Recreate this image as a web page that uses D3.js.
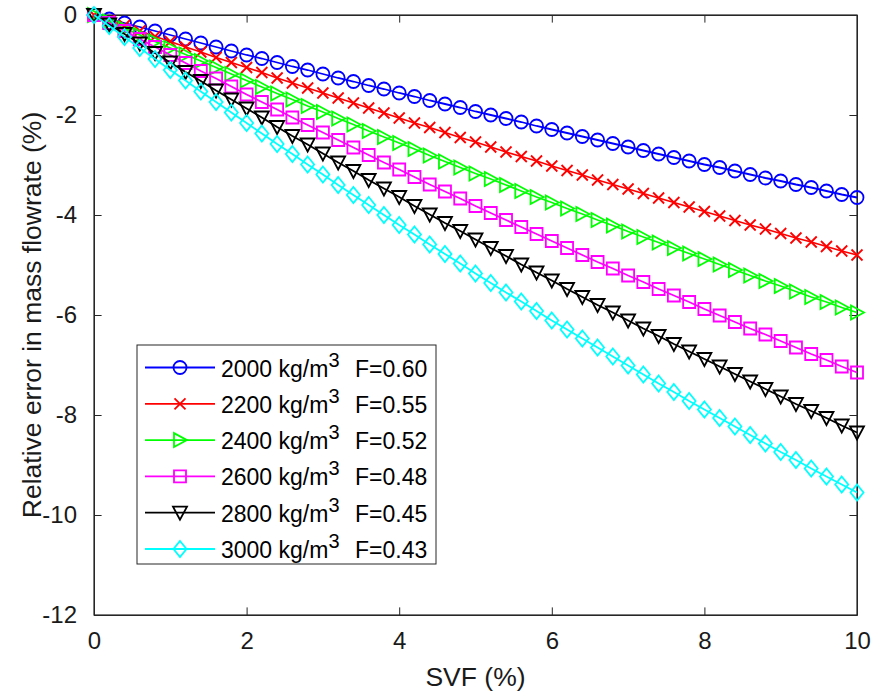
<!DOCTYPE html>
<html>
<head>
<meta charset="utf-8">
<script src="https://cdn.jsdelivr.net/npm/d3@7"></script>
<style>
  html, body { margin: 0; padding: 0; background: #fff; }
  svg { display: block; font-family: Arial, "Liberation Sans", Helvetica, sans-serif; }
</style>
</head>
<body>
<svg id="chart" width="873" height="697"></svg>
<script>
// ---------- data ----------
const svf = [0,0.2,0.4,0.6,0.8,1.0,1.2,1.4,1.6,1.8,2.0,2.2,2.4,2.6,2.8,3.0,3.2,3.4,3.6,3.8,4.0,4.2,4.4,4.6,4.8,5.0,5.2,5.4,5.6,5.8,6.0,6.2,6.4,6.6,6.8,7.0,7.2,7.4,7.6,7.8,8.0,8.2,8.4,8.6,8.8,9.0,9.2,9.4,9.6,9.8,10.0];

const err2000 = [0,-0.08,-0.16,-0.24,-0.32,-0.40,-0.48,-0.56,-0.64,-0.72,-0.80,-0.87,-0.95,-1.03,-1.10,-1.18,-1.26,-1.33,-1.41,-1.48,-1.56,-1.63,-1.71,-1.78,-1.85,-1.93,-2.00,-2.07,-2.14,-2.22,-2.29,-2.36,-2.43,-2.50,-2.57,-2.64,-2.71,-2.78,-2.85,-2.92,-2.99,-3.05,-3.12,-3.19,-3.26,-3.32,-3.39,-3.45,-3.52,-3.59,-3.65];
const err2200 = [0,-0.11,-0.21,-0.32,-0.43,-0.53,-0.64,-0.74,-0.85,-0.95,-1.05,-1.15,-1.26,-1.36,-1.46,-1.56,-1.66,-1.76,-1.86,-1.96,-2.06,-2.16,-2.25,-2.35,-2.45,-2.54,-2.64,-2.74,-2.83,-2.92,-3.02,-3.11,-3.20,-3.30,-3.39,-3.48,-3.57,-3.66,-3.75,-3.84,-3.93,-4.02,-4.11,-4.20,-4.28,-4.37,-4.46,-4.54,-4.63,-4.72,-4.80];
const err2400 = [0,-0.13,-0.27,-0.40,-0.53,-0.66,-0.79,-0.92,-1.05,-1.18,-1.31,-1.44,-1.57,-1.69,-1.82,-1.94,-2.07,-2.19,-2.32,-2.44,-2.56,-2.68,-2.81,-2.93,-3.05,-3.17,-3.28,-3.40,-3.52,-3.64,-3.75,-3.87,-3.98,-4.10,-4.21,-4.33,-4.44,-4.55,-4.66,-4.77,-4.88,-4.99,-5.10,-5.21,-5.32,-5.42,-5.53,-5.64,-5.74,-5.85,-5.95];
const err2600 = [0,-0.16,-0.32,-0.48,-0.64,-0.80,-0.96,-1.12,-1.27,-1.43,-1.59,-1.74,-1.89,-2.05,-2.20,-2.35,-2.50,-2.65,-2.80,-2.95,-3.09,-3.24,-3.39,-3.53,-3.67,-3.82,-3.96,-4.10,-4.24,-4.38,-4.52,-4.66,-4.80,-4.94,-5.07,-5.21,-5.34,-5.48,-5.61,-5.74,-5.88,-6.01,-6.14,-6.27,-6.39,-6.52,-6.65,-6.78,-6.90,-7.03,-7.15];
const err2800 = [0,-0.19,-0.38,-0.57,-0.76,-0.95,-1.14,-1.32,-1.51,-1.69,-1.87,-2.05,-2.24,-2.42,-2.59,-2.77,-2.95,-3.12,-3.30,-3.47,-3.64,-3.82,-3.99,-4.16,-4.32,-4.49,-4.66,-4.82,-4.99,-5.15,-5.31,-5.48,-5.64,-5.80,-5.95,-6.11,-6.27,-6.42,-6.58,-6.73,-6.88,-7.03,-7.18,-7.33,-7.48,-7.63,-7.78,-7.92,-8.06,-8.21,-8.35];
const err3000 = [0,-0.22,-0.44,-0.66,-0.88,-1.10,-1.31,-1.53,-1.74,-1.95,-2.16,-2.37,-2.58,-2.78,-2.99,-3.19,-3.40,-3.60,-3.80,-4.00,-4.20,-4.39,-4.59,-4.78,-4.97,-5.17,-5.36,-5.55,-5.73,-5.92,-6.11,-6.29,-6.47,-6.65,-6.83,-7.01,-7.19,-7.37,-7.54,-7.72,-7.89,-8.06,-8.23,-8.40,-8.57,-8.74,-8.90,-9.07,-9.23,-9.39,-9.55];

const densities = ["2000", "2200", "2400", "2600", "2800", "3000"];
const factors = ["0.60", "0.55", "0.52", "0.48", "0.45", "0.43"];
const colors = ["#0000ff", "#ff0000", "#00ff00", "#ff00ff", "#000000", "#00ffff"];
const markers = ["circle", "x", "triRight", "square", "triDown", "diamond"];
const xTicks = [0, 2, 4, 6, 8, 10];
const yTicks = [0, -2, -4, -6, -8, -10, -12];
const xTitle = "SVF (%)";
const yTitle = "Relative error in mass flowrate (%)";

const seriesValues = [err2000, err2200, err2400, err2600, err2800, err3000];

// ---------- layout ----------
const svg = d3.select("#chart");
const plot = { left: 94, right: 857, top: 15, bottom: 615 };
const x = d3.scaleLinear().domain([0, 10]).range([plot.left, plot.right]);
const y = d3.scaleLinear().domain([-12, 0]).range([plot.bottom, plot.top]);
const axisColor = "#262626";
const tickLen = 7.6;
const tickFont = 24;
const titleFont = 26.5;
const legendFont = 23;
const lw = 1.8;

function markerPath(type) {
  switch (type) {
    case "x": return "M-5.5,-5.5L5.5,5.5M-5.5,5.5L5.5,-5.5";
    case "triRight": return "M7,0L-6,-7L-6,7Z";
    case "square": return "M-6,-6H6V6H-6Z";
    case "triDown": return "M0,7L-7,-6L7,-6Z";
    case "diamond": return "M0,-8L6.5,0L0,8L-6.5,0Z";
  }
}
function drawMarker(g, type, color) {
  if (type === "circle") {
    g.append("circle").attr("r", 6.5).attr("fill", "none").attr("stroke", color).attr("stroke-width", lw);
  } else {
    g.append("path").attr("d", markerPath(type)).attr("fill", "none")
      .attr("stroke", color).attr("stroke-width", lw).attr("stroke-linejoin", "miter");
  }
}

// ---------- axes ----------
svg.append("rect")
  .attr("x", plot.left).attr("y", plot.top)
  .attr("width", plot.right - plot.left).attr("height", plot.bottom - plot.top)
  .attr("fill", "none").attr("stroke", axisColor).attr("stroke-width", 1.2);

const fmt = d => String(d);

const xAxis = d3.axisBottom(x).tickValues(xTicks).tickSizeInner(-tickLen).tickSizeOuter(0).tickPadding(17)
  .tickFormat(fmt);
const gx = svg.append("g").attr("transform", `translate(0,${plot.bottom})`).call(xAxis);
gx.select(".domain").attr("stroke", axisColor);
gx.selectAll(".tick line").attr("stroke", axisColor);
gx.selectAll(".tick text").attr("fill", "#1a1a1a").style("font-size", tickFont + "px")
  .style("font-family", "Arial, 'Liberation Sans', sans-serif");

const xTop = d3.axisTop(x).tickValues(xTicks).tickSizeInner(-tickLen).tickSizeOuter(0).tickFormat("");
const gxt = svg.append("g").attr("transform", `translate(0,${plot.top})`).call(xTop);
gxt.select(".domain").attr("stroke", axisColor);
gxt.selectAll(".tick line").attr("stroke", axisColor);

const yAxis = d3.axisLeft(y).tickValues(yTicks).tickSizeInner(-tickLen).tickSizeOuter(0).tickPadding(17)
  .tickFormat(fmt);
const gy = svg.append("g").attr("transform", `translate(${plot.left},0)`).call(yAxis);
gy.select(".domain").attr("stroke", axisColor);
gy.selectAll(".tick line").attr("stroke", axisColor);
gy.selectAll(".tick text").attr("fill", "#1a1a1a").style("font-size", tickFont + "px")
  .style("font-family", "Arial, 'Liberation Sans', sans-serif");

const yRight = d3.axisRight(y).tickValues(yTicks).tickSizeInner(-tickLen).tickSizeOuter(0).tickFormat("");
const gyr = svg.append("g").attr("transform", `translate(${plot.right},0)`).call(yRight);
gyr.select(".domain").attr("stroke", axisColor);
gyr.selectAll(".tick line").attr("stroke", axisColor);

svg.append("text")
  .attr("x", (plot.left + plot.right) / 2).attr("y", 686)
  .attr("text-anchor", "middle").attr("fill", "#1a1a1a")
  .style("font-size", titleFont + "px").text(xTitle);
svg.append("text")
  .attr("transform", `translate(41,${(plot.top + plot.bottom) / 2}) rotate(-90)`)
  .attr("text-anchor", "middle").attr("fill", "#1a1a1a")
  .style("font-size", titleFont + "px").text(yTitle);

// ---------- series ----------
const line = d3.line().x(d => x(d[0])).y(d => y(d[1]));
seriesValues.forEach((vals, i) => {
  const pts = svf.map((s, k) => [s, vals[k]]);
  const g = svg.append("g");
  g.append("path").datum(pts).attr("d", line)
    .attr("fill", "none").attr("stroke", colors[i]).attr("stroke-width", lw);
  pts.forEach(p => {
    const mg = g.append("g").attr("transform", `translate(${x(p[0])},${y(p[1])})`);
    drawMarker(mg, markers[i], colors[i]);
  });
});

// ---------- legend ----------
const leg = { x: 137, y: 345, w: 299, h: 219, row0: 367.5, rowStep: 36.3 };
const lg = svg.append("g");
lg.append("rect").attr("x", leg.x).attr("y", leg.y).attr("width", leg.w).attr("height", leg.h)
  .attr("fill", "#fff").attr("stroke", "#262626").attr("stroke-width", 1);
densities.forEach((dens, i) => {
  const cy = leg.row0 + i * leg.rowStep;
  lg.append("line").attr("x1", 145).attr("x2", 215).attr("y1", cy).attr("y2", cy)
    .attr("stroke", colors[i]).attr("stroke-width", lw);
  const mg = lg.append("g").attr("transform", `translate(180,${cy})`);
  drawMarker(mg, markers[i], colors[i]);
  const t = lg.append("text").attr("x", 221).attr("y", cy + 9).attr("fill", "#000")
    .style("font-size", legendFont + "px");
  t.append("tspan").text(dens + " kg/m");
  t.append("tspan").attr("dy", -10).style("font-size", "20px").text("3");
  t.append("tspan").attr("x", 355).attr("dy", 10).text("F=" + factors[i]);
});
</script>
</body>
</html>
